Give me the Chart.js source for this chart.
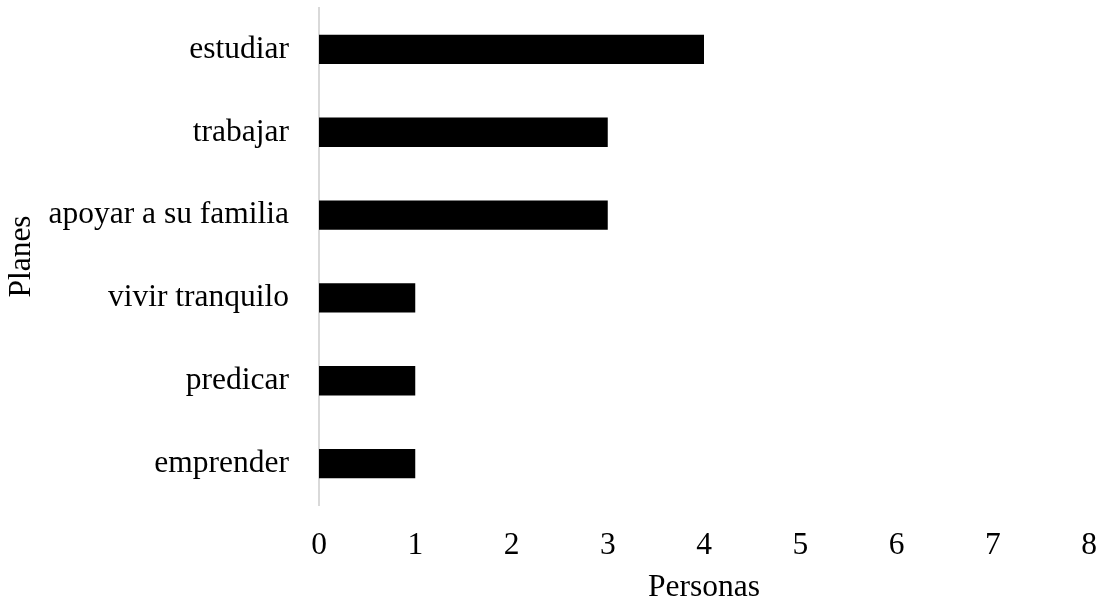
<!DOCTYPE html>
<html>
<head>
<meta charset="utf-8">
<script src="https://cdn.jsdelivr.net/npm/chart.js@4/dist/chart.umd.min.js"></script>
<style>
  html, body { margin: 0; padding: 0; background: #fff; }
  #wrap { width: 1103px; height: 600px; position: relative; }
</style>
</head>
<body>
<div id="wrap"><canvas id="planesChart"></canvas></div>
<script>
// Planes por persona
const planes = ['estudiar', 'trabajar', 'apoyar a su familia', 'vivir tranquilo', 'predicar', 'emprender'];
const personas = [4, 3, 3, 1, 1, 1];
const xMin = 0;
const xMax = 8;
const xStep = 1;

document.addEventListener('DOMContentLoaded', () => {
    const family = '"Liberation Serif", "Times New Roman", serif';
    const font = { family: family, size: 31.5 };
    const ctx = document.getElementById('planesChart').getContext('2d');
    new Chart(ctx, {
        type: 'bar',
        data: {
            labels: planes,
            datasets: [{
                label: 'Personas',
                data: personas,
                backgroundColor: '#000000',
                borderWidth: 0,
                categoryPercentage: 1,
                barPercentage: 0.355
            }]
        },
        options: {
            indexAxis: 'y',
            responsive: true,
            maintainAspectRatio: false,
            animation: false,
            layout: { padding: { top: 8, right: 14, bottom: 0, left: 0 } },
            plugins: {
                legend: { display: false },
                tooltip: { enabled: false }
            },
            scales: {
                x: {
                    min: xMin,
                    max: xMax,
                    grid: { display: false, drawTicks: false },
                    border: { display: false },
                    ticks: { stepSize: xStep, color: '#000', font: font, padding: 22 },
                    title: {
                        display: true, text: 'Personas', color: '#000',
                        font: { family: family, size: 31.5, lineHeight: 0.75 },
                        padding: { top: 0, bottom: 0 }
                    },
                    afterFit: (scale) => { scale.paddingLeft = 0; scale.paddingRight = 0; scale.height = 95; }
                },
                y: {
                    grid: { display: false, drawTicks: false },
                    border: { display: true, color: '#d9d9d9', width: 2 },
                    ticks: { color: '#000', font: font, padding: 30 },
                    title: { display: true, text: 'Planes', color: '#000', font: font, padding: { top: 3, bottom: 0 } },
                    afterFit: (scale) => { scale.paddingTop = 0; scale.paddingBottom = 0; scale.width = 319; }
                }
            }
        }
    });
});
</script>
</body>
</html>
